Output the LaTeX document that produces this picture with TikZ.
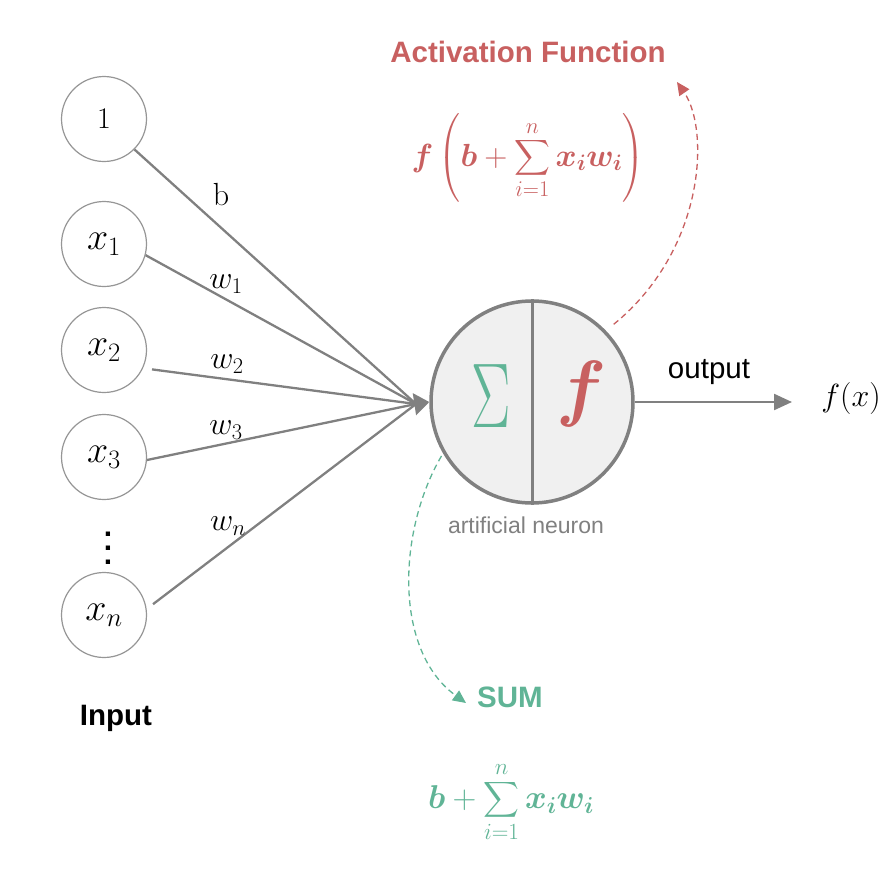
\RequirePackage{fix-cm}
\documentclass[tikz,border=0pt]{standalone}
\usepackage{amsmath}
\usepackage{bm}
\usepackage{graphicx}
\usepackage{fontspec}
\newfontfamily\helv{Liberation Sans}
\usetikzlibrary{arrows.meta}
\definecolor{redc}{RGB}{200,96,96}
\definecolor{grnc}{RGB}{96,180,150}
\definecolor{lgray}{RGB}{128,128,128}
\definecolor{cgray}{RGB}{150,150,150}
\begin{document}
\begin{tikzpicture}[x=1pt,y=-1pt,
  inp/.style={circle, draw=cgray, line width=1.2pt, fill=white, minimum size=85pt, inner sep=0pt, font=\fontsize{38}{38}\selectfont},
  wire/.style={draw=lgray, line width=2.3pt},
  lbl/.style={font=\fontsize{32}{32}\selectfont, inner sep=0pt},
  hd/.style={font=\helv\bfseries\fontsize{29.5}{30}\selectfont, inner sep=0pt},
  dashedcurve/.style={line width=1.3pt, dash pattern=on 6pt off 4pt, -{Triangle[length=13pt,width=12pt]}}
]
\useasboundingbox (0,0) rectangle (895,884);

% input nodes
\node[inp, font=\fontsize{30}{30}\selectfont] (c1) at (104,119) {$1$};
\node[inp] (x1) at (104,244) {$x_1$};
\node[inp] (x2) at (104,350) {$x_2$};
\node[inp] (x3) at (104,457) {$x_3$};
\node[inp] (xn) at (104,615) {$x_n$};
\node[font=\helv\bfseries\fontsize{30}{14}\selectfont, align=center, inner sep=0pt] (dots) at (108,548) {.\\.\\.};
\node[hd] (input) at (116,718) {Input};

% neuron
\node[circle, draw=lgray, line width=3.5pt, fill=black!6, minimum size=202pt, inner sep=0pt] (neuron) at (532,402) {};
\draw[lgray, line width=3pt] (neuron.north) -- (neuron.south);
\node[text=grnc, font=\fontsize{92}{92}\selectfont, inner sep=0pt] (sig) at (491,396) {\scalebox{0.64}[1]{$\Sigma$}};
\node[text=redc, font=\fontsize{74}{74}\selectfont, inner sep=0pt] (ff) at (582,394) {$\bm{f}$};
\node[text=lgray, font=\helv\fontsize{23}{23}\selectfont, inner sep=0pt] (an) at (526,525) {artificial neuron};

% wires
\coordinate (conv) at (416,404);
\draw[wire] (c1.-45) -- (conv);
\draw[wire] (x1.-15) -- (conv);
\draw[wire, shorten <=9pt] (x2.-25) -- (conv);
\draw[wire] (x3.-4) -- (conv);
\draw[wire, shorten <=8pt] (xn.8) -- (conv);
\draw[wire, -{Triangle[length=15pt,width=22pt]}] (conv) -- (neuron.west);

% weight labels
\node[lbl] (lb) at (221,195) {b};
\node[lbl] (lw1) at (226,284) {$w_1$};
\node[lbl] (lw2) at (227,364) {$w_2$};
\node[lbl] (lw3) at (226,430) {$w_3$};
\node[lbl] (lwn) at (228,526) {$w_n$};

% output
\coordinate (outend) at (792,402);
\draw[wire, -{Triangle[length=18pt,width=16pt]}] (neuron.east) -- (outend);
\node[font=\helv\fontsize{29.5}{30}\selectfont, inner sep=0pt] (outl) at (709,372) {output};
\node[font=\fontsize{32}{32}\selectfont, inner sep=0pt] (fx) at (851,398) {$f(x)$};

% activation function
\node[hd, text=redc] (act) at (528,52) {Activation Function};
\node[text=redc, font=\fontsize{32}{32}\selectfont, inner sep=0pt] (actf) at (528,158)
  {$\displaystyle \bm{f}\left(\bm{b}+\sum_{i=1}^{n}\bm{x}_{\bm{i}}\bm{w}_{\bm{i}}\right)$};
\coordinate (acttip) at (677,82);
\draw[dashedcurve, redc, shorten <=10pt] (neuron.44) .. controls (705,250) and (710,130) .. (acttip);

% sum
\node[hd, text=grnc] (sum) at (510,697) {SUM};
\node[text=grnc, font=\fontsize{33}{33}\selectfont, inner sep=0pt] (sumf) at (511,802)
  {$\displaystyle \bm{b}+\sum_{i=1}^{n}\bm{x}_{\bm{i}}\bm{w}_{\bm{i}}$};
\coordinate (sumtip) at (466,703);
\draw[dashedcurve, grnc, shorten <=3pt] (neuron.210) .. controls (398,530) and (393,650) .. (sumtip);
\end{tikzpicture}
\end{document}
